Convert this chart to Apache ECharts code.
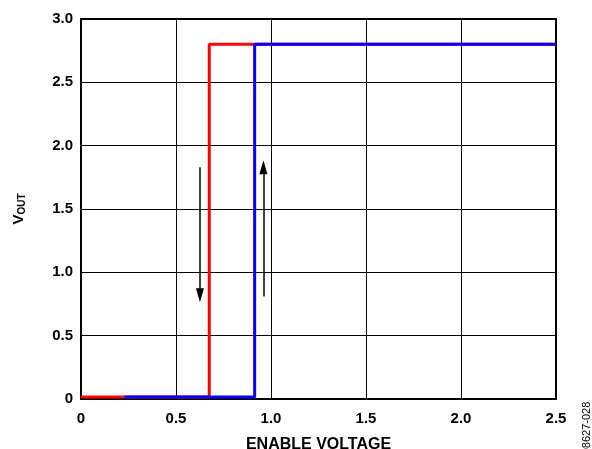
<!DOCTYPE html>
<html>
<head>
<meta charset="utf-8">
<script src="https://cdn.jsdelivr.net/npm/echarts@6/dist/echarts.min.js"></script>
<style>html,body{margin:0;padding:0;background:#fff;}#c{width:592px;height:449px;}</style>
</head>
<body>
<div id="c"></div>
<script>
var xTicks = [0, 0.5, 1.0, 1.5, 2.0, 2.5];
var yTicks = [0, 0.5, 1.0, 1.5, 2.0, 2.5, 3.0];
var redX = [0, 0.675, 0.675, 2.5];
var redY = [0.015, 0.015, 2.8, 2.8];
var blueX = [0.228, 0.914, 0.914, 2.5];
var blueY = [0.015, 0.015, 2.8, 2.8];
var downArrow = [[0.626, 1.83], [0.626, 0.82]];
var upArrow = [[0.960, 0.81], [0.960, 1.83]];

function zip(a, b) { return a.map(function (v, i) { return [v, b[i]]; }); }
var font = 'Liberation Sans, Arial, sans-serif';
function fmt(v) { return v === 0 ? '0' : v.toFixed(1); }
var chart = echarts.init(document.getElementById('c'), null, {renderer: 'canvas'});
chart.setOption({
  animation: false,
  backgroundColor: '#fff',
  grid: {left: 81, right: 36, top: 19, bottom: 50, containLabel: false, outerBoundsMode: 'none'},
  xAxis: [{
    type: 'value', min: 0, max: 2.5, interval: 0.5,
    name: 'ENABLE VOLTAGE', nameLocation: 'middle', nameGap: 38,
    nameTextStyle: {fontFamily: font, fontWeight: 'bold', fontSize: 16, color: '#000'},
    axisLine: {show: true, lineStyle: {color: '#000', width: 2}},
    axisTick: {show: false},
    splitLine: {show: true, lineStyle: {color: '#000', width: 1}},
    axisLabel: {fontFamily: font, fontWeight: 'bold', fontSize: 15, color: '#000', margin: 12, formatter: fmt}
  }, {
    type: 'value', min: 0, max: 2.5, interval: 0.5, position: 'top',
    axisLine: {show: true, onZero: false, lineStyle: {color: '#000', width: 2}},
    axisTick: {show: false}, axisLabel: {show: false}, splitLine: {show: false}
  }],
  yAxis: [{
    type: 'value', min: 0, max: 3.0, interval: 0.5,
    name: '{v|V}{s|OUT}', nameLocation: 'middle', nameGap: 54, nameRotate: 90,
    nameTextStyle: {rich: {
      v: {fontFamily: font, fontWeight: 'bold', fontSize: 15, color: '#000'},
      s: {fontFamily: font, fontWeight: 'bold', fontSize: 10, color: '#000', verticalAlign: 'bottom', padding: [7, 0, 0, 0]}
    }},
    axisLine: {show: true, lineStyle: {color: '#000', width: 2}},
    axisTick: {show: false},
    splitLine: {show: true, lineStyle: {color: '#000', width: 1}},
    axisLabel: {fontFamily: font, fontWeight: 'bold', fontSize: 15, color: '#000', margin: 8, formatter: fmt}
  }, {
    type: 'value', min: 0, max: 3.0, interval: 0.5, position: 'right',
    axisLine: {show: true, onZero: false, lineStyle: {color: '#000', width: 2}},
    axisTick: {show: false}, axisLabel: {show: false}, splitLine: {show: false}
  }],
  series: [
    {type: 'line', data: zip(redX, redY), showSymbol: false, lineStyle: {color: '#ff0000', width: 3}, z: 3},
    {type: 'line', data: zip(blueX, blueY), showSymbol: false, lineStyle: {color: '#0000ff', width: 3}, z: 4,
      markLine: {
        silent: true, symbol: ['none', 'triangle'], symbolSize: [8, 14], label: {show: false},
        lineStyle: {color: '#000', width: 1.5, type: 'solid'},
        data: [
          [{coord: downArrow[0]}, {coord: downArrow[1]}],
          [{coord: upArrow[0]}, {coord: upArrow[1]}]
        ]
      }}
  ],
  graphic: [
    {type: 'text', x: 587, y: 428, rotation: Math.PI / 2,
      style: {text: '08627-028', fontFamily: font, fontSize: 11, fill: '#000', align: 'center', verticalAlign: 'middle'}}
  ]
});
</script>
</body>
</html>
